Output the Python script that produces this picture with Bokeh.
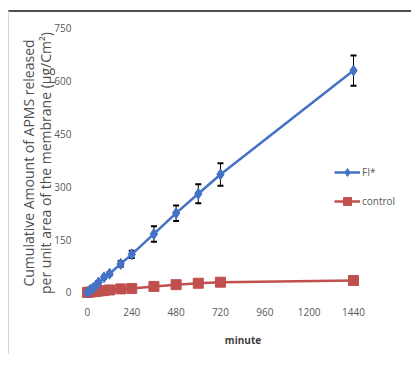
from bokeh.plotting import figure
from bokeh.models import (ColumnDataSource, Whisker, TeeHead, Legend, LegendItem,
                          FixedTicker, Range1d, Title, InlineStyleSheet)
from bokeh.embed import file_html
from bokeh.resources import INLINE

# ---- data ----
minutes = [0, 15, 30, 45, 60, 90, 120, 180, 240, 360, 480, 600, 720, 1440]
fi_values = [0, 7, 12, 19, 28, 43, 53, 81, 108, 166, 225, 280, 335, 630]
fi_err = [0, 1, 2, 2, 3, 4, 5, 8, 10, 22, 22, 27, 32, 43]
control_values = [0, 1, 2, 3, 4, 5, 7, 10, 11, 17, 22, 26, 29, 34]
x_ticks = [0, 240, 480, 720, 960, 1200, 1440]
y_ticks = [0, 150, 300, 450, 600, 750]
y_title_lines = ["per unit area of the membrane (µg/Cm²)",
                 "Cumulative Amount of APMS released"]

blue = "#4472C4"
red = "#C0504D"
label_color = "#595959"
font = "Open Sans"

src = ColumnDataSource(dict(
    x=minutes, fi=fi_values, ctl=control_values,
    up=[v + e for v, e in zip(fi_values, fi_err)],
    lo=[v - e for v, e in zip(fi_values, fi_err)],
))

p = figure(width=403, height=344, output_backend="svg", toolbar_location=None,
           x_range=Range1d(-32, 1716), y_range=Range1d(-23, 758),
           min_border_left=72, min_border_right=8, min_border_top=13, min_border_bottom=56)
p.styles = {"margin-top": "10px", "margin-left": "8px",
            "border-left": "1px solid #d8d8d8"}
p.stylesheets = [InlineStyleSheet(css=":host { border-top: 2px solid #505050; }")]
p.outline_line_color = None
p.xgrid.grid_line_color = None
p.ygrid.grid_line_color = None

for ax in (p.xaxis[0], p.yaxis[0]):
    ax.axis_line_color = None
    ax.major_tick_line_color = None
    ax.minor_tick_line_color = None
    ax.major_label_text_color = label_color
    ax.major_label_text_font = font
    ax.major_label_text_font_size = "10px"

p.xaxis.ticker = FixedTicker(ticks=x_ticks)
p.yaxis.ticker = FixedTicker(ticks=y_ticks)
p.xaxis.major_label_standoff = 1
p.yaxis.major_label_standoff = 4

p.xaxis.axis_label = "minute"
p.xaxis.axis_label_text_font = font
p.xaxis.axis_label_text_font_style = "bold"
p.xaxis.axis_label_text_font_size = "10px"
p.xaxis.axis_label_text_color = "#404040"
p.xaxis.axis_label_standoff = 14

# y-axis title as two stacked side titles (first added is nearest the frame)
for i, line in enumerate(y_title_lines):
    p.add_layout(Title(text=line, align="center", text_font=font,
                       text_font_size="14px", text_font_style="normal",
                       text_color="#505050", standoff=-7 if i == 0 else 0,
                       offset=0), "left")

# control series
c_line = p.line("x", "ctl", source=src, line_color=red, line_width=2.5)
c_mark = p.scatter("x", "ctl", source=src, marker="square", size=10,
                   fill_color=red, line_color=red)

# FI* series
f_line = p.line("x", "fi", source=src, line_color=blue, line_width=2.5)
whisk = Whisker(source=src, base="x", upper="up", lower="lo",
                line_color="black", line_width=1,
                upper_head=TeeHead(size=6, line_color="black", line_width=2),
                lower_head=TeeHead(size=6, line_color="black", line_width=2))
p.add_layout(whisk)
f_mark = p.scatter("x", "fi", source=src, marker="diamond", size=11,
                   fill_color=blue, line_color=blue)

legend = Legend(items=[LegendItem(label="FI*", renderers=[f_line, f_mark]),
                       LegendItem(label="control", renderers=[c_line, c_mark])],
                location=(253, 89), background_fill_alpha=0, border_line_color=None,
                label_text_font=font, label_text_font_size="10px",
                label_text_color=label_color, glyph_width=26, spacing=9,
                label_standoff=2, padding=0)
p.add_layout(legend)

open("out.html", "w").write(file_html(p, INLINE))
